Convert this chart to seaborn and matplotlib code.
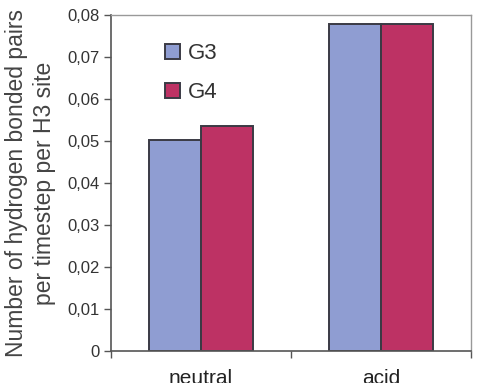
import numpy as np
import pandas as pd
import matplotlib
matplotlib.use('Agg')
import matplotlib.pyplot as plt
import seaborn as sns
from matplotlib.ticker import FuncFormatter, FixedLocator

conditions = ['neutral', 'acid']
groups = ['G3', 'G4']
g3_values = [0.0502, 0.0779]
g4_values = [0.0536, 0.0779]
y_ticks = [0, 0.01, 0.02, 0.03, 0.04, 0.05, 0.06, 0.07, 0.08]

df = pd.DataFrame({
    'condition': conditions * 2,
    'group': ['G3'] * 2 + ['G4'] * 2,
    'value': g3_values + g4_values,
})

sns.set_style('white')
plt.rcParams['font.family'] = ['Liberation Sans', 'DejaVu Sans']

fig = plt.figure(figsize=(4.78, 3.83), dpi=100)
ax = fig.add_axes([0.232, 0.084, 0.753, 0.877])

palette = {'G3': '#8f9dd2', 'G4': '#bd3264'}
sns.barplot(data=df, x='condition', y='value', hue='group', order=conditions,
            hue_order=groups, palette=palette, width=0.58, edgecolor='#3a3a44',
            linewidth=1.4, saturation=1, ax=ax)

ax.set_ylim(0, 0.08)
ax.set_xlim(-0.5, 1.5)
ax.yaxis.set_major_locator(FixedLocator(y_ticks))
ax.yaxis.set_major_formatter(FuncFormatter(lambda v, p: '0' if v == 0 else f'{v:.2f}'.replace('.', ',')))
ax.tick_params(axis='y', direction='out', length=5, width=1, color='#555555',
               labelsize=12, labelcolor='#333333', pad=3, left=True)
ax.set_xticks([0, 1])
ax.set_xticks([-0.5, 0.5, 1.5], minor=True)
ax.tick_params(axis='x', which='major', length=0, labelsize=15, pad=13, labelcolor='#222222')
ax.tick_params(axis='x', which='minor', direction='out', length=5, width=1,
               color='#555555', bottom=True)

for side in ['left', 'bottom']:
    ax.spines[side].set_color('#555555')
    ax.spines[side].set_linewidth(1.2)
for side in ['top', 'right']:
    ax.spines[side].set_color('#999999')
    ax.spines[side].set_linewidth(1.0)

ax.set_xlabel('')
ax.set_ylabel('Number of hydrogen bonded pairs\nper timestep per H3 site',
              fontsize=16.5, color='#444444', labelpad=8, linespacing=1.3)

ax.legend(loc='upper left', bbox_to_anchor=(0.15, 0.915), frameon=False,
          fontsize=16, handlelength=0.68, handleheight=0.68, handletextpad=0.35,
          labelspacing=0.8, borderpad=0, borderaxespad=0, labelcolor='#333333')

fig.savefig('out.png', dpi=100)
